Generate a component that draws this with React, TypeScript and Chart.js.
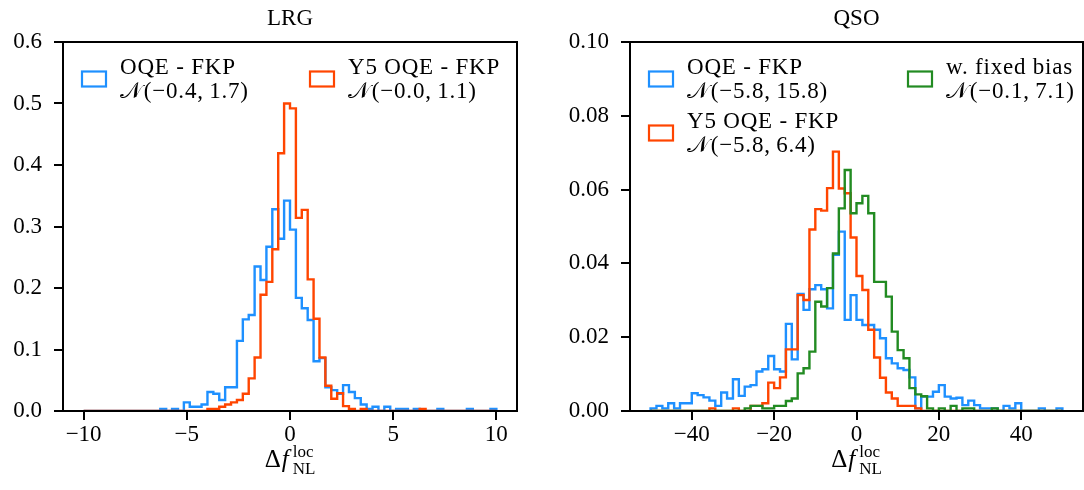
import React, { useEffect, useRef } from 'react';
import { Chart, registerables } from 'chart.js';

Chart.register(...registerables);

const SERIF = '"Liberation Serif", "DejaVu Serif", serif';
const FONT_PX = 23;
const LABEL_PX = 25;
const SCRIPT_PX = 17;

const BLUE = '#1e90ff';
const RED = '#ff4500';
const GREEN = '#228b22';

// ---------- LRG panel: 70 equal bins on [-10, 10], densities ----------
const lrgBinRange = [-10, 10];
const lrgOqe = [
  0, 0, 0, 0, 0, 0, 0, 0, 0, 0,
  0, 0, 0, 0.0035, 0, 0.0035, 0, 0.014, 0.007, 0.007,
  0.0105, 0.031, 0.028, 0.018, 0.0385, 0.0385, 0.114, 0.149, 0.156, 0.235,
  0.213, 0.267, 0.328, 0.28, 0.342, 0.295, 0.184, 0.167, 0.148, 0.081,
  0.086, 0.0385, 0.034, 0.028, 0.042, 0.031, 0.021, 0.0105, 0.0035, 0.007,
  0, 0.007, 0, 0.0035, 0.0035, 0, 0.0035, 0, 0, 0,
  0.0035, 0, 0, 0, 0, 0.0035, 0, 0, 0, 0.0035,
];
const lrgY5 = [
  0, 0, 0, 0, 0, 0, 0, 0, 0, 0,
  0, 0, 0, 0, 0, 0, 0, 0, 0, 0,
  0, 0.0035, 0.0035, 0.007, 0.0105, 0.014, 0.018, 0.028, 0.053, 0.087,
  0.189, 0.21, 0.263, 0.419, 0.5, 0.492, 0.314, 0.327, 0.214, 0.15,
  0.087, 0.041, 0.02, 0.029, 0.008, 0.0035, 0, 0.0035, 0, 0,
  0, 0, 0, 0, 0, 0, 0, 0.0035, 0, 0,
  0, 0, 0, 0, 0, 0, 0, 0, 0, 0,
];
const lrgXRange = [-11, 11];
const lrgYRange = [0, 0.6];
const lrgXTicks = [-10, -5, 0, 5, 10];
const lrgXTickLabels = ['\u221210', '\u22125', '0', '5', '10'];
const lrgYTicks = [0, 0.1, 0.2, 0.3, 0.4, 0.5, 0.6];
const lrgYTickLabels = ['0.0', '0.1', '0.2', '0.3', '0.4', '0.5', '0.6'];

// ---------- QSO panel: 70 equal bins on [-50, 50], densities ----------
const qsoBinRange = [-50, 50];
const qsoOqe = [
  0.0007, 0.0014, 0.0007, 0.0021, 0.0007, 0.0021, 0.0021, 0.0048, 0.0043, 0.0037,
  0.0028, 0.0014, 0.005, 0.0034, 0.0086, 0.0041, 0.0066, 0.007, 0.0107, 0.0113,
  0.0149, 0.0113, 0.0107, 0.0236, 0.014, 0.0317, 0.0274, 0.033, 0.0341, 0.033,
  0.0278, 0.0423, 0.0486, 0.0247, 0.0314, 0.0247, 0.0233, 0.0233, 0.022, 0.0197,
  0.0143, 0.0129, 0.0116, 0.0111, 0.0091, 0.0007, 0.0039, 0.0039, 0.0052, 0.007,
  0.0039, 0.0034, 0.0036, 0.0016, 0.0028, 0.0016, 0.0007, 0.0007, 0.0007, 0,
  0.0014, 0.0007, 0.0021, 0, 0, 0, 0.0007, 0, 0, 0.0007,
];
const qsoY5 = [
  0, 0, 0, 0, 0, 0, 0, 0, 0, 0,
  0.0007, 0, 0, 0, 0.0007, 0, 0, 0.0014, 0.0014, 0.0021,
  0.0077, 0.0062, 0.0091, 0.0167, 0.0167, 0.0314, 0.0301, 0.0492, 0.0547, 0.0543,
  0.0604, 0.0703, 0.0603, 0.059, 0.047, 0.0366, 0.0328, 0.022, 0.0145, 0.009,
  0.005, 0.0034, 0.0014, 0.0014, 0.0014, 0.0007, 0, 0, 0, 0,
  0, 0, 0, 0, 0, 0, 0, 0, 0, 0,
  0, 0, 0, 0, 0, 0, 0, 0, 0, 0,
];
const qsoFixedBias = [
  0, 0, 0, 0, 0, 0, 0, 0, 0, 0,
  0, 0, 0, 0, 0, 0, 0.0007, 0.0014, 0.0014, 0.0007,
  0.0007, 0.0014, 0.0014, 0.0027, 0.0034, 0.0102, 0.0116, 0.0161, 0.0296, 0.0283,
  0.0333, 0.0427, 0.0549, 0.0653, 0.0536, 0.0563, 0.0583, 0.0536, 0.035, 0.035,
  0.031, 0.0215, 0.0165, 0.0143, 0.0062, 0.0045, 0.004, 0.0007, 0, 0.0007,
  0, 0.0014, 0, 0.0007, 0.0007, 0, 0, 0, 0.0007, 0,
  0, 0, 0, 0, 0, 0, 0, 0, 0, 0,
];
const qsoXRange = [-55, 55];
const qsoYRange = [0, 0.1];
const qsoXTicks = [-40, -20, 0, 20, 40];
const qsoXTickLabels = ['\u221240', '\u221220', '0', '20', '40'];
const qsoYTicks = [0, 0.02, 0.04, 0.06, 0.08, 0.1];
const qsoYTickLabels = ['0.00', '0.02', '0.04', '0.06', '0.08', '0.10'];

// Outline of a step histogram: vertical edges at both ends, flat tops per bin.
function stepOutline(range: number[], values: number[]) {
  const n = values.length;
  const w = (range[1] - range[0]) / n;
  const pts = [{ x: range[0], y: 0 }];
  values.forEach((v, i) => pts.push({ x: range[0] + i * w, y: v }));
  pts.push({ x: range[1], y: 0 });
  return pts;
}

function drawFitText(ctx: CanvasRenderingContext2D, text: string, x: number, y: number) {
  // calligraphic N followed by the upright parameters
  const head = text.slice(0, 2);
  const rest = text.slice(2);
  ctx.font = `${FONT_PX}px ${SERIF}`;
  ctx.fillText(head, x, y);
  const w = ctx.measureText(head).width;
  ctx.fillText(rest, x + w + 1, y);
}

const decorPlugin = {
  id: 'panelDecor',
  afterDatasetsDraw(chart: any) {
    const { ctx, chartArea: a } = chart;
    ctx.save();
    ctx.strokeStyle = '#000';
    ctx.lineWidth = 2;
    ctx.strokeRect(a.left, a.top, a.right - a.left, a.bottom - a.top);
    ctx.restore();
  },
  afterDraw(chart: any, _args: any, opts: any) {
    const { ctx, chartArea: a } = chart;
    const cx = (a.left + a.right) / 2;
    ctx.save();
    ctx.fillStyle = '#000';
    ctx.textBaseline = 'middle';
    ctx.textAlign = 'center';
    ctx.font = `${FONT_PX}px ${SERIF}`;
    ctx.fillText(opts.title, cx, opts.titleY);

    // legend
    ctx.textAlign = 'left';
    (ctx as any).letterSpacing = '0.8px';
    const hw = 24, hh = 15;
    chart.data.datasets.forEach((ds: any, i: number) => {
      const slot = opts.legendSlots[i];
      const hx = a.left + slot.dx;
      const hy = a.top + slot.dy;
      ctx.strokeStyle = ds.borderColor;
      ctx.lineWidth = 2.2;
      ctx.strokeRect(hx, hy - hh / 2, hw, hh);
      ctx.fillStyle = '#000';
      ctx.font = `${FONT_PX}px ${SERIF}`;
      ctx.fillText(ds.label, hx + hw + 14, hy - 11);
      drawFitText(ctx, ds.fitText, hx + hw + 14, hy + 12.5);
    });
    (ctx as any).letterSpacing = '0px';

    // x label: Δf with sub "NL" and sup "loc"
    const base = opts.xLabelBaseline;
    ctx.textBaseline = 'alphabetic';
    ctx.font = `${LABEL_PX}px ${SERIF}`;
    const wD = ctx.measureText('\u0394').width;
    ctx.font = `italic ${LABEL_PX}px ${SERIF}`;
    const wF = ctx.measureText('f').width;
    ctx.font = `${SCRIPT_PX}px ${SERIF}`;
    const wSup = ctx.measureText('loc').width;
    const wSub = ctx.measureText('NL').width;
    const total = wD + 1 + wF + 4 + Math.max(wSup, wSub);
    let x = cx - total / 2;
    ctx.font = `${LABEL_PX}px ${SERIF}`;
    ctx.fillText('\u0394', x, base);
    x += wD + 1;
    ctx.font = `italic ${LABEL_PX}px ${SERIF}`;
    ctx.fillText('f', x, base);
    x += wF + 4;
    ctx.font = `${SCRIPT_PX}px ${SERIF}`;
    ctx.fillText('loc', x, base - 10);
    ctx.fillText('NL', x, base + 7);
    ctx.restore();
  },
};

type Series = { name: string; fit: string; color: string; values: number[] };
type PanelSpec = {
  title: string;
  binRange: number[];
  series: Series[];
  xRange: number[];
  yRange: number[];
  xTicks: number[];
  xTickLabels: string[];
  yTicks: number[];
  yTickLabels: string[];
  yAxisWidth: number;
  padRight: number;
  legendSlots: { dx: number; dy: number }[];
};

const lrgPanel: PanelSpec = {
  title: 'LRG',
  binRange: lrgBinRange,
  series: [
    { name: 'OQE - FKP', fit: '\u{1D4A9}(\u22120.4,\u20091.7)', color: BLUE, values: lrgOqe },
    { name: 'Y5 OQE - FKP', fit: '\u{1D4A9}(\u22120.0,\u20091.1)', color: RED, values: lrgY5 },
  ],
  xRange: lrgXRange,
  yRange: lrgYRange,
  xTicks: lrgXTicks,
  xTickLabels: lrgXTickLabels,
  yTicks: lrgYTicks,
  yTickLabels: lrgYTickLabels,
  yAxisWidth: 63,
  padRight: 28,
  legendSlots: [{ dx: 19, dy: 37 }, { dx: 247, dy: 37 }],
};

const qsoPanel: PanelSpec = {
  title: 'QSO',
  binRange: qsoBinRange,
  series: [
    { name: 'OQE - FKP', fit: '\u{1D4A9}(\u22125.8,\u200915.8)', color: BLUE, values: qsoOqe },
    { name: 'Y5 OQE - FKP', fit: '\u{1D4A9}(\u22125.8,\u20096.4)', color: RED, values: qsoY5 },
    { name: 'w. fixed bias', fit: '\u{1D4A9}(\u22120.1,\u20097.1)', color: GREEN, values: qsoFixedBias },
  ],
  xRange: qsoXRange,
  yRange: qsoYRange,
  xTicks: qsoXTicks,
  xTickLabels: qsoXTickLabels,
  yTicks: qsoYTicks,
  yTickLabels: qsoYTickLabels,
  yAxisWidth: 85,
  padRight: 1,
  legendSlots: [{ dx: 19, dy: 37 }, { dx: 19, dy: 91 }, { dx: 278, dy: 37 }],
};

function makeConfig(p: PanelSpec): any {
  const tickFont = { family: SERIF, size: FONT_PX };
  const grid = {
    display: true,
    drawOnChartArea: false,
    drawTicks: true,
    tickLength: 9,
    color: '#000',
    lineWidth: 2,
  };
  const n = p.series.length;
  return {
    type: 'line',
    data: {
      datasets: p.series.map((s, i) => ({
        label: s.name,
        fitText: s.fit,
        data: stepOutline(p.binRange, s.values),
        borderColor: s.color,
        borderWidth: 2.4,
        borderJoinStyle: 'miter',
        pointRadius: 0,
        stepped: 'before',
        fill: false,
        tension: 0,
        order: n - i,
      })),
    },
    options: {
      responsive: false,
      animation: false,
      events: [],
      layout: { padding: { top: 42, right: p.padRight, left: 0, bottom: 0 } },
      plugins: {
        legend: { display: false },
        tooltip: { enabled: false },
        panelDecor: {
          title: p.title,
          titleY: 19,
          legendSlots: p.legendSlots,
          xLabelBaseline: 467,
        },
      },
      scales: {
        x: {
          type: 'linear',
          min: p.xRange[0],
          max: p.xRange[1],
          afterBuildTicks: (s: any) => {
            s.ticks = p.xTicks.map((v) => ({ value: v }));
          },
          afterFit: (s: any) => {
            s.height = 79;
          },
          ticks: {
            autoSkip: false,
            maxRotation: 0,
            padding: 1,
            color: '#000',
            font: tickFont,
            callback: (_v: any, i: number) => p.xTickLabels[i],
          },
          grid,
          border: { display: false },
        },
        y: {
          type: 'linear',
          min: p.yRange[0],
          max: p.yRange[1],
          afterBuildTicks: (s: any) => {
            s.ticks = p.yTicks.map((v) => ({ value: v }));
          },
          afterFit: (s: any) => {
            s.width = p.yAxisWidth;
          },
          ticks: {
            autoSkip: false,
            padding: 12,
            color: '#000',
            font: tickFont,
            callback: (_v: any, i: number) => p.yTickLabels[i],
          },
          grid,
          border: { display: false },
        },
      },
    },
    plugins: [decorPlugin],
  };
}

function HistPanel({ spec, left, width }: { spec: PanelSpec; left: number; width: number }) {
  const ref = useRef<HTMLCanvasElement | null>(null);
  useEffect(() => {
    if (!ref.current) return;
    const chart = new Chart(ref.current, makeConfig(spec));
    return () => chart.destroy();
  }, [spec]);
  return (
    <canvas
      ref={ref}
      width={width}
      height={490}
      style={{ position: 'absolute', left, top: 0, width, height: 490 }}
    />
  );
}

export default function App() {
  return (
    <div
      style={{
        position: 'absolute',
        left: 0,
        top: 0,
        width: 1084,
        height: 490,
        background: '#fff',
        overflow: 'hidden',
      }}
    >
      <HistPanel spec={lrgPanel} left={0} width={545} />
      <HistPanel spec={qsoPanel} left={545} width={539} />
    </div>
  );
}
